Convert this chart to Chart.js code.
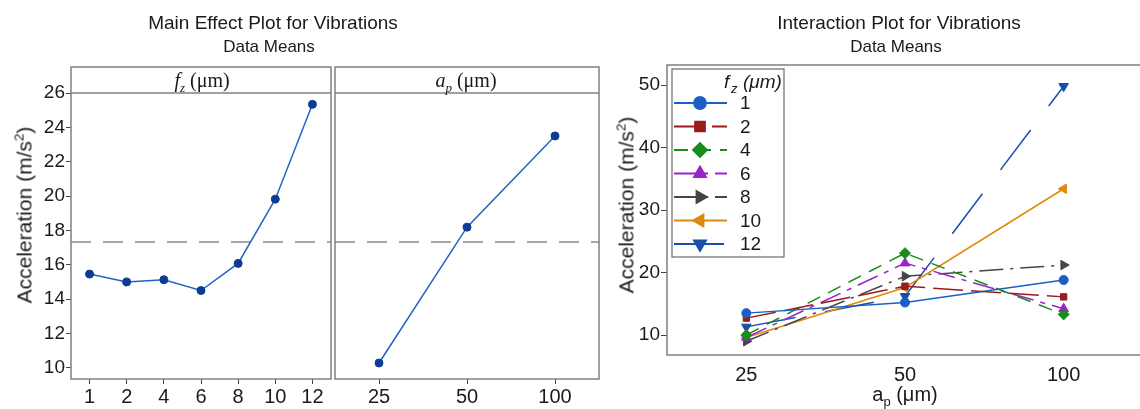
<!DOCTYPE html>
<html><head><meta charset="utf-8">
<script src="https://cdn.jsdelivr.net/npm/chart.js@4.4.1/dist/chart.umd.min.js"></script>
<style>
html,body{margin:0;padding:0;background:#fff;overflow:hidden;width:1140px;height:409px;}
#wrap{position:relative;width:1140px;height:409px;overflow:hidden;font-family:'Liberation Sans',Arial,sans-serif;color:#1a1a1a;}
canvas{position:absolute;top:0;}
.t{position:absolute;white-space:nowrap;line-height:1;}
.c{transform:translate(-50%,-50%);}
.r{transform:translate(-50%,-50%) rotate(-90deg);}
.serif{font-family:'Liberation Serif','Times New Roman',serif;}
sub,sup{font-size:65%;line-height:0;}
</style></head><body><div id="wrap">
<canvas id="cA" width="336" height="409" style="left:0"></canvas>
<canvas id="cB" width="280" height="409" style="left:330px"></canvas>
<canvas id="cC" width="550" height="409" style="left:600px"></canvas>
<div class="t c" style="left:273px;top:22px;font-size:19px">Main Effect Plot for Vibrations</div>
<div class="t c" style="left:269px;top:46px;font-size:17px">Data Means</div>
<div class="t c" style="left:899px;top:22px;font-size:19px">Interaction Plot for Vibrations</div>
<div class="t c" style="left:896px;top:46px;font-size:17px">Data Means</div>
<div class="t c serif" style="left:202px;top:80px;font-size:20px"><i>f</i><sub><i>z</i></sub> (μm)</div>
<div class="t c serif" style="left:466px;top:80px;font-size:20px"><i>a</i><sub><i>p</i></sub> (μm)</div>
<div class="t r" style="left:24px;top:215px;font-size:21px">Acceleration (m/s<sup>2</sup>)</div>
<div class="t r" style="left:626px;top:205px;font-size:21px">Acceleration (m/s<sup>2</sup>)</div>
<div class="t c" style="left:905px;top:394px;font-size:20px">a<sub>p</sub> (μm)</div>
</div>
<script>
// ---- data ----
const fzLevels = ['1','2','4','6','8','10','12'];
const apLevels = ['25','50','100'];
const fzMeans = [15.46, 15.0, 15.13, 14.5, 16.08, 19.82, 25.34];
const apMeans = [10.28, 18.19, 23.5];
const grandMean = 17.32;
const mainYTicks = [10,12,14,16,18,20,22,24,26];
const interYTicks = [10,20,30,40,50];
// interaction means: one array per fz level, values at ap = 25, 50, 100
const fz1  = [13.5, 15.2, 18.8];
const fz2  = [12.7, 17.8, 16.1];
const fz4  = [10.0, 23.1, 13.3];
const fz6  = [9.6, 21.5, 14.2];
const fz8  = [9.0, 19.4, 21.2];
const fz10 = [9.6, 17.6, 33.4];
const fz12 = [11.3, 16.2, 49.8];
const interSeries = [fz1, fz2, fz4, fz6, fz8, fz10, fz12];

// ---- styles ----
const FONT = "'Liberation Sans', Arial, sans-serif";
const TXT = '#1a1a1a';
const styles = [
  {color:'#1b5fc4', point:'circle',   rot:0,   dash:[]},
  {color:'#9a1b1b', point:'rect',     rot:0,   dash:[30,8]},
  {color:'#1a8c1a', point:'rectRot',  rot:0,   dash:[14,9]},
  {color:'#9b22cc', point:'triangle', rot:0,   dash:[22,7,5,7]},
  {color:'#454545', point:'triangle', rot:90,  dash:[24,7,3,7]},
  {color:'#dd8a0e', point:'triangle', rot:270, dash:[]},
  {color:'#1a4fa8', point:'triangle', rot:180, dash:[50,30]}
];

const frameColor = '#808080';

const refLine = {
  id:'refLine',
  beforeDatasetsDraw(c){
    const ctx=c.ctx, a=c.chartArea, y=c.scales.y.getPixelForValue(grandMean);
    ctx.save(); ctx.strokeStyle='#8a8a8a'; ctx.lineWidth=1.5; ctx.setLineDash([20,12]);
    ctx.beginPath(); ctx.moveTo(a.left,y); ctx.lineTo(a.right,y); ctx.stroke(); ctx.restore();
  }
};
const panelFrame = {
  id:'panelFrame',
  afterDraw(c){
    const ctx=c.ctx, a=c.chartArea, top=67;
    ctx.save(); ctx.strokeStyle=frameColor; ctx.lineWidth=1.5;
    ctx.strokeRect(a.left, top, a.right-a.left, a.bottom-top);
    ctx.beginPath(); ctx.moveTo(a.left,a.top); ctx.lineTo(a.right,a.top); ctx.stroke();
    ctx.restore();
  }
};
const boxFrame = {
  id:'boxFrame',
  afterDraw(c){
    const ctx=c.ctx, a=c.chartArea;
    ctx.save(); ctx.strokeStyle=frameColor; ctx.lineWidth=1.5;
    ctx.strokeRect(a.left, a.top, a.right-a.left, a.bottom-a.top); ctx.restore();
  }
};

function mainOptions(showY, pad){
  return {
    responsive:false, animation:false, devicePixelRatio:1,
    layout:{padding:pad},
    plugins:{legend:{display:false}, tooltip:{enabled:false}},
    scales:{
      x:{type:'category', offset:true,
         grid:{display:true, drawOnChartArea:false, tickLength:5, color:'#444', lineWidth:1},
         border:{display:false},
         ticks:{font:{size:20, family:FONT}, color:TXT, padding:1, maxRotation:0, autoSkip:false},
         afterFit(s){ s.height = 30; }},
      y:{display:showY, min:9.35, max:26,
         afterBuildTicks(s){ s.ticks = mainYTicks.map(v=>({value:v})); },
         grid:{drawOnChartArea:false, tickLength:5, color:'#444'},
         border:{display:false},
         ticks:{font:{size:19, family:FONT}, color:TXT, padding:1},
         afterFit(s){ s.width = showY ? 71 : 0; }}
    }
  };
}
function mainDataset(vals){
  return {data:vals, borderColor:'#2462c2', borderWidth:1.5, tension:0,
    pointStyle:'circle', pointRadius:4, pointBackgroundColor:'#0c3d92', pointBorderColor:'#0c3d92', pointBorderWidth:1};
}

new Chart(document.getElementById('cA'), {
  type:'line',
  data:{labels:fzLevels, datasets:[mainDataset(fzMeans)]},
  options:mainOptions(true, {top:93, left:0, right:2, bottom:0}),
  plugins:[refLine, panelFrame]
});
new Chart(document.getElementById('cB'), {
  type:'line',
  data:{labels:apLevels, datasets:[mainDataset(apMeans)]},
  options:mainOptions(false, {top:93, left:4, right:11, bottom:0}),
  plugins:[refLine, panelFrame]
});

const legendPlugin = {
  id:'interLegend',
  afterDraw(c){
    const ctx=c.ctx; const H=Chart.helpers;
    const bx=72, by=69, bw=112, bh=188;
    ctx.save();
    ctx.fillStyle='#fff'; ctx.fillRect(bx,by,bw,bh);
    ctx.strokeStyle='#6a6a6a'; ctx.lineWidth=1.2; ctx.strokeRect(bx,by,bw,bh);
    // title
    ctx.fillStyle=TXT; ctx.textBaseline='alphabetic'; ctx.textAlign='left';
    ctx.font="italic 19px "+FONT; ctx.fillText('f',124,88);
    ctx.font="italic 13px "+FONT; ctx.fillText('z',131,93);
    ctx.font="italic 19px "+FONT; ctx.fillText('(μm)',143,88);
    fzLevels.forEach((lab,i)=>{
      const st=styles[i], y=103+i*23.5;
      ctx.strokeStyle=st.color; ctx.lineWidth=1.8; ctx.setLineDash(st.dash);
      ctx.beginPath(); ctx.moveTo(74,y); ctx.lineTo(127,y); ctx.stroke(); ctx.setLineDash([]);
      ctx.fillStyle=st.color; ctx.strokeStyle=st.color;
      H.drawPoint(ctx,{pointStyle:st.point, rotation:st.rot, radius:st.point==='circle'?6:7, borderWidth:1}, 100, y);
      ctx.fillStyle=TXT; ctx.font="19px "+FONT; ctx.textBaseline='middle';
      ctx.fillText(lab,140,y+1);
    });
    ctx.restore();
  }
};

new Chart(document.getElementById('cC'), {
  type:'line',
  data:{labels:apLevels, datasets: interSeries.map((vals,i)=>({
    label:fzLevels[i], data:vals, borderColor:styles[i].color, borderWidth:1.5, borderDash:styles[i].dash, tension:0,
    pointStyle:styles[i].point, pointRotation:styles[i].rot,
    pointRadius: styles[i].point==='triangle'?5.5:(styles[i].point==='rectRot'?5.5:4.5),
    pointBackgroundColor:styles[i].color, pointBorderColor:styles[i].color, pointBorderWidth:1
  }))},
  options:{
    responsive:false, animation:false, devicePixelRatio:1,
    layout:{padding:{top:65, left:0, right:7, bottom:0}},
    plugins:{legend:{display:false}, tooltip:{enabled:false}},
    scales:{
      x:{type:'category', offset:true, grid:{display:false, drawTicks:false}, border:{display:false},
         ticks:{font:{size:20, family:FONT}, color:TXT, padding:8, maxRotation:0},
         afterFit(s){ s.height = 54; }},
      y:{min:6.8, max:53.2,
         afterBuildTicks(s){ s.ticks = interYTicks.map(v=>({value:v})); },
         grid:{drawOnChartArea:false, tickLength:6, color:'#444'}, border:{display:false},
         ticks:{font:{size:19, family:FONT}, color:TXT, padding:1},
         afterFit(s){ s.width = 67; }}
    }
  },
  plugins:[boxFrame, legendPlugin]
});
</script>
</body></html>
